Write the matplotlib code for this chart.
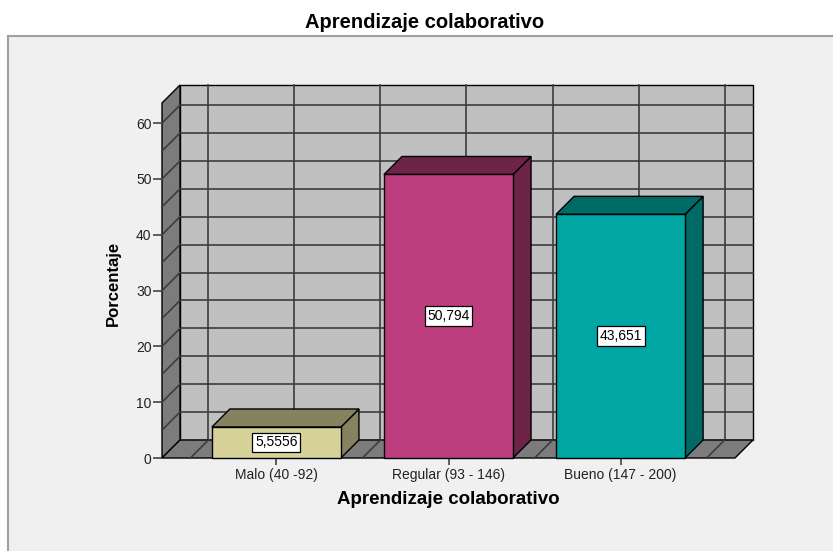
import matplotlib.pyplot as plt
from matplotlib.patches import Polygon, Rectangle

plt.rcParams["font.family"] = ["Liberation Sans", "DejaVu Sans"]

# data
categories = ["Malo (40 -92)", "Regular (93 - 146)", "Bueno (147 - 200)"]
percentages = [5.5556, 50.794, 43.651]
value_labels = ["5,5556", "50,794", "43,651"]

FRONT = ["#d6d29a", "#bc3e7e", "#00a6a3"]
SHADE = ["#85825f", "#6e2349", "#006a66"]

XMIN, XMAX = 0.335, 3.665
YMAX = 63.6
BAR_W = 0.75

fig = plt.figure(figsize=(8.33, 5.51), dpi=100)
fig.patch.set_facecolor("white")

# outer gray frame
fig.patches.append(Rectangle((8 / 833, -0.05), 1.0, (551 - 36) / 551 + 0.05,
                             transform=fig.transFigure, facecolor="#f0f0f0",
                             edgecolor="#a0a0a0", lw=1.5, zorder=-5))

ax = fig.add_axes([162 / 833, 93 / 551, 573 / 833, 355 / 551])
ax.set_zorder(2)
ax.set_xlim(XMIN, XMAX)
ax.set_ylim(0, YMAX)
ax.patch.set_visible(False)
for s in ax.spines.values():
    s.set_visible(False)

# depth offset: 18 px expressed in data units
DX = 18 / (573 / (XMAX - XMIN))
DY = 18 / (355 / YMAX)

GRID = "#3c3c3c"
EDGE = "black"


def poly(pts, fc, z):
    ax.add_patch(Polygon(pts, closed=True, facecolor=fc, edgecolor=EDGE,
                         lw=1.0, zorder=z, clip_on=False))


def seg(x0, y0, x1, y1, z):
    ax.plot([x0, x1], [y0, y1], color=GRID, lw=1.2, zorder=z, clip_on=False)


# back wall
poly([(XMIN + DX, DY), (XMAX + DX, DY), (XMAX + DX, YMAX + DY), (XMIN + DX, YMAX + DY)],
     "#c0c0c0", 1)
for y in range(5, 61, 5):
    seg(XMIN + DX, y + DY, XMAX + DX, y + DY, 1.1)
for k in range(1, 8):
    x = k * 0.5
    seg(x + DX, DY, x + DX, YMAX + DY, 1.1)

# left wall
poly([(XMIN, 0), (XMIN + DX, DY), (XMIN + DX, YMAX + DY), (XMIN, YMAX)], "#7c7c7c", 1.2)
for y in range(5, 61, 5):
    seg(XMIN, y, XMIN + DX, y + DY, 1.3)

# floor
poly([(XMIN, 0), (XMAX, 0), (XMAX + DX, DY), (XMIN + DX, DY)], "#7c7c7c", 1.4)
for k in range(1, 8):
    x = k * 0.5
    seg(x, 0, x + DX, DY, 1.5)

# bars
xs = range(1, len(categories) + 1)
for i, (x, v) in enumerate(zip(xs, percentages)):
    l, r = x - BAR_W / 2, x + BAR_W / 2
    z = 3 + i
    poly([(r, 0), (r + DX, DY), (r + DX, v + DY), (r, v)], SHADE[i], z)
    poly([(l, v), (r, v), (r + DX, v + DY), (l + DX, v + DY)], SHADE[i], z)
    poly([(l, 0), (r, 0), (r, v), (l, v)], FRONT[i], z + 0.1)
    ax.text(x, v / 2, value_labels[i], ha="center", va="center", fontsize=10,
            zorder=10, bbox=dict(boxstyle="square,pad=0.2", facecolor="white",
                                 edgecolor="black", lw=0.9))

ax.set_xticks(list(xs))
ax.set_xticklabels(categories, fontsize=10, color="#222222")
ax.set_yticks(range(0, 61, 10))
ax.set_yticklabels([str(t) for t in range(0, 61, 10)], fontsize=10, color="#222222")
ax.tick_params(axis="x", length=5, width=1.2, color="#444444", pad=2)
ax.tick_params(axis="y", length=6.5, width=1.2, color="#444444", pad=1)

ax.set_xlabel("Aprendizaje colaborativo", fontsize=13.5, fontweight="bold", va="center")
ax.xaxis.set_label_coords(0.5, -0.118)
ax.set_ylabel("Porcentaje", fontsize=12, fontweight="bold", va="center")
ax.yaxis.set_label_coords(-0.0855, 0.493)

fig.text(425 / 833, (551 - 22) / 551, "Aprendizaje colaborativo", ha="center",
         va="center", fontsize=14.5, fontweight="bold")

fig.savefig("out.png", dpi=100)
